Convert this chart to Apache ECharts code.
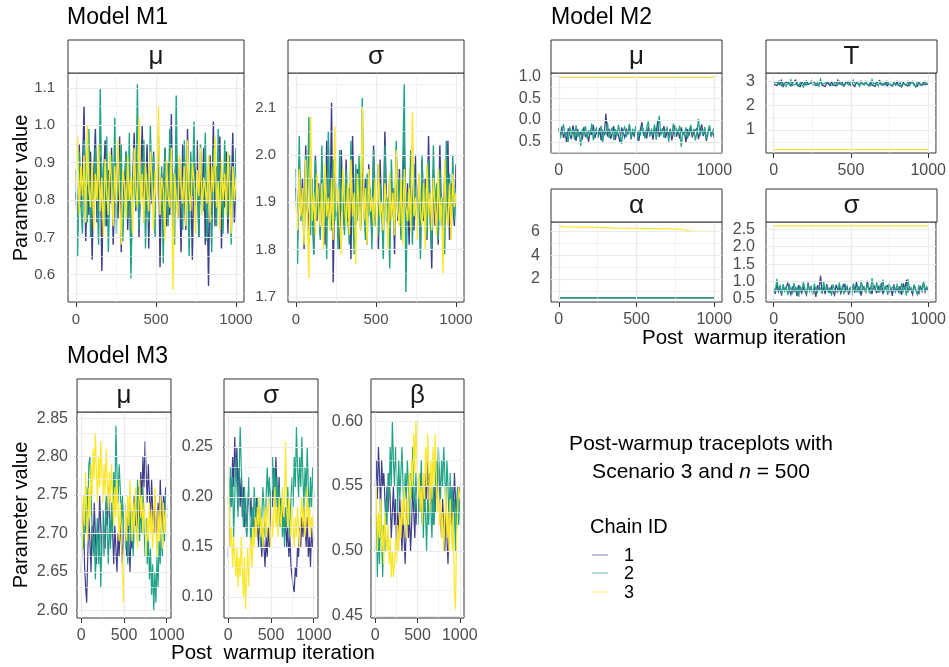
<!DOCTYPE html>
<html><head><meta charset="utf-8">
<script src="https://cdn.jsdelivr.net/npm/echarts@6/dist/echarts.min.js"></script>
<style>html,body{margin:0;padding:0;background:#fff}#c{width:949px;height:667px}</style>
</head><body><div id="c"></div>
<script>
const chainIds = ['1', '2', '3'];
const xTicks = [0, 500, 1000];

// Model M1
const m1MuTicks = [0.6, 0.7, 0.8, 0.9, 1.0, 1.1];
const m1MuC1 = [0.82,0.71,0.95,0.78,0.88,1.05,0.69,0.84,0.76,0.93,0.64,0.87,0.99,0.74,0.81,0.92,0.61,0.85,0.96,0.73,0.88,0.79,0.94,0.68,0.83,0.90,0.75,0.97,0.66,0.86,0.80,0.93,0.72,0.89,0.63,0.84,0.98,0.77,0.91,0.70,0.86,1.00,0.74,0.82,0.95,0.67,0.88,0.79,0.93,0.71,0.85,0.97,0.62,0.87,0.80,0.94,0.73,0.90,0.76,1.03,0.69,0.84,0.92,0.75,0.88,0.66,0.95,0.81,0.72,0.99,0.78,0.86,0.64,0.91,0.83,0.96,0.70,0.87,0.79,0.94,0.68,0.85,0.57,0.92,0.76,1.01,0.73,0.89,0.82,0.97,0.67,0.86,0.78,0.93,0.71,0.88,0.80,0.98,0.74,0.85];
const m1MuC2 = [0.88,0.65,0.93,0.79,0.71,0.96,0.84,0.74,0.99,0.70,0.87,0.77,0.94,0.82,0.68,1.10,0.79,0.90,0.73,0.97,0.66,0.85,0.92,0.76,1.02,0.71,0.88,0.80,0.95,0.69,0.86,0.93,0.75,0.98,0.59,0.84,0.91,0.78,1.11,0.72,0.89,0.81,0.96,0.67,0.87,0.74,1.00,0.79,0.92,0.70,0.85,0.97,0.76,0.89,0.63,0.94,0.82,0.73,0.99,0.80,0.87,0.68,1.08,0.77,0.91,0.84,0.72,0.96,0.79,0.88,0.65,0.93,0.81,1.01,0.74,0.86,0.70,0.95,0.83,0.77,0.98,0.69,0.90,0.80,0.66,0.94,0.85,0.73,0.99,0.78,0.87,0.71,0.96,0.82,0.75,0.92,0.68,0.89,0.79,0.94];
const m1MuC3 = [0.84,0.97,0.76,0.89,0.81,0.92,0.74,1.00,0.83,0.78,0.90,0.72,0.87,0.80,0.95,0.77,0.86,0.70,0.91,0.82,0.76,0.93,0.85,0.73,0.89,0.79,0.96,0.81,0.68,0.88,0.84,0.75,0.92,0.80,0.86,0.71,0.94,0.83,0.78,1.02,0.79,0.87,0.74,0.90,0.82,0.77,0.93,0.85,0.72,0.88,0.80,1.05,0.76,0.86,0.83,0.69,0.91,0.81,0.78,0.94,0.56,0.87,0.80,0.75,0.92,0.84,0.79,0.89,0.73,0.96,0.82,0.77,0.90,0.85,0.71,0.88,0.81,0.94,0.76,0.86,0.83,0.79,0.92,0.74,0.89,0.82,0.97,0.78,0.85,0.72,0.91,0.80,0.87,0.76,0.93,0.83,0.71,0.89,0.80,0.86];

const m1SigTicks = [1.7, 1.8, 1.9, 2.0, 2.1];
const m1SigC1 = [1.93,1.82,1.99,1.87,1.95,1.80,2.02,1.89,1.84,1.97,1.91,1.79,2.00,1.86,1.94,1.83,1.98,1.88,1.81,2.03,1.90,1.85,2.11,1.73,1.96,1.87,1.92,1.80,2.01,1.89,1.84,1.99,1.86,1.93,1.78,2.04,1.88,1.82,1.97,1.91,1.85,2.00,1.87,1.95,1.81,1.98,1.89,1.83,2.02,1.86,1.94,1.80,1.99,1.88,1.84,2.05,1.90,1.82,1.96,1.87,1.93,1.79,2.01,1.86,1.97,1.83,1.91,2.03,1.85,1.94,1.81,1.98,1.88,1.84,2.00,1.87,1.92,1.80,1.99,1.86,1.95,1.82,2.04,1.89,1.76,1.97,1.85,1.93,1.81,2.02,1.88,1.84,1.96,1.87,2.03,1.82,1.94,1.89,1.85,1.98];
const m1SigC2 = [1.97,1.77,2.04,1.86,1.92,1.81,2.00,1.88,2.08,1.83,1.95,1.79,1.99,1.87,1.93,1.82,2.02,1.85,1.96,1.78,2.05,1.89,1.84,1.99,1.86,1.94,1.80,2.01,1.88,1.92,1.83,1.97,1.87,1.81,2.03,1.90,1.79,1.98,1.86,2.00,1.84,2.12,1.88,1.82,1.96,1.87,1.93,1.80,2.01,1.85,1.98,1.83,1.94,1.89,1.78,2.02,1.86,1.91,1.76,1.99,1.88,1.84,2.03,1.87,1.95,1.82,1.97,2.15,1.71,1.92,1.86,2.01,1.81,1.98,1.89,1.84,1.96,1.78,2.00,1.87,1.93,1.83,1.99,1.86,1.80,2.02,1.88,1.94,1.82,1.97,1.85,1.91,1.79,2.03,1.87,1.96,1.83,2.00,1.86,1.93];
const m1SigC3 = [1.90,1.84,1.97,1.87,1.93,1.81,1.99,1.88,1.74,2.08,1.86,1.92,1.83,1.96,1.89,1.85,1.94,1.80,1.98,1.87,1.91,1.84,1.95,1.82,2.06,1.88,1.93,1.86,1.79,1.97,1.90,1.85,1.94,1.83,1.99,1.87,1.92,1.77,1.96,1.89,1.84,2.10,1.86,1.93,1.81,1.97,1.88,1.91,1.85,1.95,1.82,1.98,1.87,1.90,1.84,1.94,1.89,1.80,1.96,1.86,1.92,1.83,2.01,1.88,1.85,1.95,1.81,1.97,1.89,1.86,1.93,1.84,2.09,1.87,1.91,1.82,1.96,1.88,1.85,1.94,1.80,1.98,1.87,1.92,1.84,1.95,1.89,1.83,1.97,1.86,1.91,1.75,1.99,1.88,1.85,1.94,1.82,1.96,1.89,1.92];

// Model M2
const m2MuTicks = [-0.5, 0.0, 0.5, 1.0];
const m2MuTickLabels = ['0.5', '0.0', '0.5', '1.0'];
const m2MuC1 = [-0.22,-0.35,-0.15,-0.41,-0.28,-0.52,-0.19,-0.33,-0.44,-0.12,-0.30,-0.48,-0.21,-0.37,-0.26,-0.45,-0.16,-0.39,-0.29,-0.50,-0.23,-0.34,-0.11,-0.42,-0.27,-0.36,-0.18,-0.47,-0.25,-0.32,0.15,-0.38,-0.20,-0.43,-0.31,-0.14,-0.46,-0.24,-0.35,-0.51,-0.17,-0.29,-0.40,-0.22,-0.33,-0.13,-0.44,-0.26,-0.37,-0.19,-0.30,-0.48,-0.21,-0.05,-0.36,-0.27,-0.42,-0.16,-0.34,-0.25,-0.45,-0.18,-0.31,-0.02,-0.39,-0.23,-0.28,-0.14,-0.41,-0.26,-0.35,-0.20,-0.47,-0.29,-0.12,-0.38,-0.24,-0.43,-0.17,-0.33,-0.27,-0.52,-0.21,-0.36,-0.15,-0.40,-0.28,-0.31,-0.19,-0.44,-0.25,-0.10,-0.37,-0.22,-0.48,-0.30,-0.16,-0.34,-0.26,-0.41];
const m2MuC2 = [-0.18,-0.42,-0.25,-0.10,-0.36,-0.29,-0.50,-0.15,-0.33,-0.22,-0.45,-0.12,-0.38,-0.27,-0.60,-0.20,-0.31,-0.14,-0.43,-0.24,-0.35,-0.08,-0.47,-0.26,-0.19,-0.40,-0.30,-0.13,-0.52,-0.23,-0.34,-0.05,-0.41,-0.28,-0.17,-0.46,-0.21,-0.37,-0.11,-0.32,-0.55,-0.25,-0.16,-0.39,-0.27,-0.09,-0.44,-0.20,-0.33,-0.14,-0.48,-0.24,-0.36,-0.12,-0.29,-0.42,-0.18,-0.03,-0.38,-0.22,-0.31,-0.10,-0.45,-0.26,0.10,-0.35,-0.19,-0.41,-0.28,-0.15,-0.50,-0.23,-0.33,-0.08,-0.39,-0.21,-0.30,-0.13,-0.62,-0.25,-0.36,-0.17,-0.43,-0.27,-0.11,-0.34,-0.20,-0.47,-0.28,0.02,-0.37,-0.22,-0.31,-0.16,-0.44,-0.25,-0.12,-0.39,-0.29,-0.19];
const m2MuC3 = [0.98, 0.98, 0.98, 0.98, 0.98];

const m2TauTicks = [1, 2, 3];
const m2TauC1 = [2.88,2.95,2.82,2.99,2.86,3.03,2.79,2.92,2.84,2.97,2.90,2.81,2.94,2.87,3.05,2.83,2.91,2.78,2.96,2.89,2.85,3.00,2.88,2.80,2.93,2.86,2.98,2.83,2.91,2.87,3.02,2.84,2.90,2.79,2.95,2.88,2.82,2.97,2.86,2.92,2.81,3.04,2.89,2.85,2.94,2.80,2.90,2.87,2.99,2.83,2.92,2.86,2.78,2.96,2.89,2.84,3.01,2.87,2.82,2.93,2.88,2.81,2.97,2.85,2.91,2.79,2.95,2.87,3.03,2.84,2.90,2.86,2.98,2.82,2.92,2.88,2.80,2.94,2.85,2.99,2.83,2.91,2.77,2.96,2.86,2.89,2.81,2.93,2.87,3.00,2.84,2.90,2.79,2.95,2.88,2.83,2.97,2.86,2.92,2.89];
const m2TauC2 = [2.92,2.84,2.98,2.87,3.01,2.82,2.93,2.89,2.79,2.96,2.86,3.06,2.83,2.91,2.88,2.97,2.81,2.94,2.87,2.76,2.99,2.85,2.92,2.89,3.02,2.84,2.90,2.86,2.95,2.80,3.08,2.88,2.83,2.93,2.87,2.98,2.85,2.91,2.82,2.96,2.89,2.84,3.00,2.87,2.92,2.81,2.95,2.88,2.85,2.97,2.83,3.04,2.90,2.86,2.93,2.80,2.96,2.88,2.84,2.99,2.87,2.91,2.82,3.07,2.89,2.85,2.94,2.81,2.97,2.88,2.86,2.92,2.83,2.98,2.87,2.90,2.80,2.95,2.86,2.93,2.84,2.97,2.78,2.91,2.88,2.85,2.99,2.82,2.94,2.87,2.90,2.76,2.96,2.88,2.84,2.92,2.86,3.00,2.89,2.91];
const m2TauC3 = [0.19, 0.19, 0.19, 0.19, 0.19];

const m2AlphaTicks = [2, 4, 6];
const m2AlphaC1 = [0.40, 0.40, 0.40, 0.40, 0.40];
const m2AlphaC2 = [0.40, 0.40, 0.40, 0.40, 0.40];
const m2AlphaC3Iter = [0, 30, 250, 350, 500, 700, 800, 850, 1000];
const m2AlphaC3 = [6.45, 6.38, 6.33, 6.27, 6.24, 6.20, 6.15, 6.02, 6.00];

const m2SigTicks = [0.5, 1.0, 1.5, 2.0, 2.5];
const m2SigC1 = [0.78,0.65,0.92,0.71,0.84,0.60,0.88,0.74,0.69,0.95,0.76,0.63,0.86,0.72,0.81,0.58,0.90,0.75,0.67,0.83,0.79,0.62,0.97,0.73,0.85,0.68,0.80,0.56,0.89,0.74,1.17,0.70,0.82,0.64,0.93,0.77,0.69,0.86,0.72,0.61,0.91,0.76,0.83,0.66,0.79,0.94,0.71,0.85,0.63,0.80,0.75,0.88,0.68,0.99,0.73,0.82,0.60,0.87,0.77,0.70,1.02,0.74,0.84,0.65,0.91,0.78,0.69,0.85,0.72,0.96,0.64,0.81,0.76,0.89,0.67,0.83,0.59,0.92,0.74,0.80,0.71,0.87,0.62,0.95,0.78,1.05,0.69,0.84,0.75,0.63,0.90,0.77,0.82,0.66,0.88,0.73,0.97,0.70,0.81,0.76];
const m2SigC2 = [0.82,0.70,1.08,0.76,0.88,0.64,0.93,0.73,0.85,0.61,0.90,0.78,0.68,0.96,0.74,0.83,0.57,0.87,0.72,0.99,0.79,0.66,0.91,0.75,0.84,0.62,0.94,0.77,0.70,0.86,0.80,0.65,1.00,0.73,0.89,0.68,0.83,0.60,0.92,0.76,0.81,0.69,0.97,0.74,0.87,0.63,0.90,0.78,0.71,0.85,0.58,0.95,0.79,0.72,0.88,0.66,1.03,0.75,0.84,0.70,0.93,0.77,0.64,1.10,0.81,0.73,0.98,0.68,0.86,0.76,1.06,0.71,0.89,0.62,0.94,0.79,0.74,0.87,0.67,0.91,0.80,0.65,0.96,0.72,0.85,0.60,1.07,0.77,0.83,0.69,0.92,0.75,0.63,0.88,0.80,0.71,1.01,0.74,0.86,0.78];
const m2SigC3 = [2.60, 2.60, 2.60, 2.60, 2.60];

// Model M3
const m3MuTicks = [2.60, 2.65, 2.70, 2.75, 2.80, 2.85];
const m3MuC1 = [2.70,2.68,2.74,2.66,2.63,2.61,2.67,2.72,2.69,2.65,2.71,2.68,2.74,2.70,2.66,2.72,2.69,2.75,2.71,2.67,2.73,2.70,2.68,2.74,2.71,2.76,2.72,2.69,2.73,2.70,2.66,2.71,2.68,2.65,2.70,2.67,2.72,2.69,2.66,2.71,2.74,2.70,2.67,2.73,2.69,2.65,2.70,2.68,2.72,2.75,2.71,2.74,2.69,2.76,2.72,2.78,2.74,2.80,2.76,2.82,2.78,2.74,2.79,2.75,2.71,2.77,2.73,2.70,2.75,2.72,2.68,2.74,2.71,2.77,2.73,2.69,2.75,2.72,2.76,2.73];
const m3MuC2 = [2.65,2.71,2.68,2.74,2.70,2.76,2.72,2.79,2.80,2.75,2.71,2.67,2.70,2.64,2.68,2.72,2.66,2.70,2.63,2.69,2.73,2.67,2.71,2.75,2.70,2.66,2.72,2.68,2.74,2.70,2.78,2.73,2.84,2.78,2.74,2.79,2.76,2.71,2.75,2.70,2.73,2.68,2.72,2.66,2.70,2.74,2.69,2.73,2.67,2.71,2.75,2.70,2.77,2.73,2.69,2.74,2.70,2.76,2.71,2.67,2.72,2.66,2.70,2.64,2.68,2.62,2.66,2.60,2.65,2.61,2.67,2.63,2.69,2.66,2.71,2.67,2.73,2.69,2.75,2.72];
const m3MuC3 = [2.72,2.68,2.75,2.71,2.78,2.73,2.69,2.76,2.72,2.79,2.75,2.81,2.77,2.83,2.78,2.74,2.80,2.76,2.82,2.78,2.74,2.79,2.75,2.81,2.77,2.73,2.78,2.74,2.79,2.75,2.71,2.76,2.72,2.77,2.73,2.69,2.74,2.70,2.66,2.61,2.68,2.73,2.69,2.75,2.71,2.77,2.73,2.69,2.74,2.70,2.76,2.72,2.68,2.73,2.77,2.72,2.75,2.70,2.74,2.71,2.67,2.72,2.69,2.74,2.70,2.73,2.68,2.72,2.76,2.71,2.67,2.73,2.69,2.75,2.71,2.68,2.74,2.70,2.73,2.71];

const m3SigTicks = [0.10, 0.15, 0.20, 0.25];
const m3SigC1 = [0.14,0.18,0.22,0.19,0.24,0.21,0.26,0.22,0.25,0.20,0.23,0.19,0.22,0.18,0.21,0.17,0.20,0.16,0.19,0.21,0.18,0.20,0.17,0.19,0.16,0.18,0.20,0.17,0.15,0.19,0.16,0.14,0.17,0.15,0.13,0.16,0.14,0.17,0.15,0.18,0.21,0.19,0.23,0.20,0.24,0.21,0.19,0.22,0.18,0.20,0.17,0.19,0.16,0.18,0.15,0.17,0.14,0.16,0.13,0.12,0.11,0.105,0.13,0.12,0.15,0.14,0.17,0.15,0.18,0.16,0.19,0.17,0.15,0.18,0.14,0.16,0.13,0.17,0.15,0.16];
const m3SigC2 = [0.20,0.17,0.23,0.19,0.22,0.16,0.20,0.24,0.21,0.18,0.22,0.27,0.23,0.20,0.17,0.21,0.18,0.16,0.19,0.22,0.18,0.15,0.19,0.17,0.21,0.18,0.16,0.20,0.17,0.19,0.15,0.18,0.21,0.19,0.16,0.20,0.23,0.20,0.22,0.19,0.21,0.24,0.20,0.23,0.19,0.22,0.18,0.21,0.17,0.20,0.16,0.18,0.15,0.19,0.17,0.21,0.18,0.16,0.20,0.22,0.19,0.24,0.21,0.27,0.23,0.20,0.24,0.21,0.26,0.22,0.19,0.23,0.20,0.25,0.21,0.18,0.22,0.19,0.23,0.20];
const m3SigC3 = [0.22,0.19,0.15,0.17,0.13,0.16,0.14,0.12,0.15,0.11,0.14,0.12,0.16,0.13,0.10,0.14,0.088,0.12,0.15,0.11,0.14,0.16,0.13,0.17,0.15,0.18,0.16,0.19,0.17,0.20,0.16,0.18,0.15,0.17,0.19,0.16,0.18,0.20,0.17,0.15,0.19,0.16,0.18,0.21,0.17,0.19,0.16,0.20,0.18,0.17,0.21,0.18,0.20,0.255,0.19,0.17,0.20,0.18,0.16,0.19,0.17,0.15,0.18,0.16,0.19,0.17,0.15,0.18,0.20,0.17,0.19,0.16,0.18,0.21,0.17,0.19,0.16,0.18,0.17,0.19];

const m3BetaTicks = [0.45, 0.50, 0.55, 0.60];
const m3BetaC1 = [0.55,0.57,0.54,0.58,0.56,0.53,0.57,0.55,0.56,0.54,0.52,0.55,0.53,0.56,0.54,0.51,0.53,0.55,0.52,0.54,0.50,0.53,0.51,0.54,0.52,0.50,0.53,0.51,0.49,0.52,0.54,0.51,0.53,0.50,0.52,0.55,0.53,0.51,0.54,0.52,0.55,0.53,0.56,0.54,0.52,0.55,0.53,0.56,0.54,0.57,0.55,0.53,0.56,0.54,0.52,0.55,0.53,0.56,0.54,0.57,0.55,0.53,0.51,0.54,0.52,0.50,0.53,0.51,0.49,0.52,0.54,0.52,0.55,0.53,0.56,0.54,0.52,0.55,0.53,0.55];
const m3BetaC2 = [0.50,0.53,0.48,0.52,0.49,0.54,0.51,0.48,0.52,0.50,0.54,0.52,0.56,0.54,0.58,0.55,0.60,0.57,0.55,0.58,0.56,0.53,0.57,0.54,0.56,0.58,0.55,0.53,0.56,0.54,0.57,0.55,0.52,0.56,0.54,0.58,0.55,0.53,0.56,0.54,0.52,0.55,0.53,0.57,0.54,0.51,0.55,0.53,0.50,0.54,0.52,0.56,0.53,0.51,0.55,0.52,0.54,0.57,0.55,0.58,0.56,0.54,0.57,0.55,0.58,0.56,0.53,0.57,0.55,0.52,0.56,0.53,0.55,0.51,0.54,0.50,0.53,0.55,0.52,0.54];
const m3BetaC3 = [0.52,0.55,0.50,0.53,0.51,0.54,0.50,0.52,0.49,0.53,0.51,0.50,0.52,0.49,0.51,0.48,0.50,0.48,0.49,0.51,0.49,0.52,0.50,0.53,0.51,0.54,0.52,0.55,0.53,0.51,0.54,0.52,0.56,0.54,0.57,0.55,0.59,0.56,0.60,0.57,0.54,0.56,0.53,0.55,0.52,0.56,0.54,0.58,0.55,0.59,0.56,0.53,0.57,0.54,0.58,0.55,0.59,0.56,0.53,0.55,0.52,0.54,0.51,0.53,0.50,0.52,0.55,0.51,0.53,0.50,0.54,0.52,0.50,0.53,0.47,0.455,0.51,0.53,0.55,0.54];

// ---------------- STYLE / LAYOUT ----------------
const FONT = '"Liberation Sans", Arial, Helvetica, sans-serif';
const chainColors = ['#3E3D8B', '#20A486', '#FDE725'];
const GRID_COLOR = '#EBEBEB';

function fmt(dec) { return v => Number(v).toFixed(dec); }

const panels = [
  { l: 68,  t: 73,  w: 176, h: 229, ymin: 0.527, ymax: 1.14,  ticks: m1MuTicks,   lab: fmt(1), strip: 'μ', chains: [m1MuC1, m1MuC2, m1MuC3], ym: 13, fs: 15, lw: 1.4 },
  { l: 288, t: 73,  w: 176, h: 229, ymin: 1.689, ymax: 2.173, ticks: m1SigTicks,  lab: fmt(1), strip: 'σ', chains: [m1SigC1, m1SigC2, m1SigC3], ym: 12, fs: 15, lw: 1.4 },
  { l: 551, t: 73,  w: 171, h: 80,  ymin: -0.758, ymax: 1.082, ticks: m2MuTicks, lab: v => m2MuTickLabels[m2MuTicks.indexOf(Number(v))], strip: 'μ', chains: [m2MuC1, m2MuC2, m2MuC3], ym: 10, fs: 16, lw: 1.25 },
  { l: 766, t: 73,  w: 171, h: 80,  ymin: 0.05,  ymax: 3.34,  ticks: m2TauTicks,  lab: fmt(0), strip: 'T', chains: [m2TauC1, m2TauC2, m2TauC3], ym: 11, fs: 16, lw: 1.25 },
  { l: 551, t: 222, w: 171, h: 80,  ymin: 0.06,  ymax: 6.78,  ticks: m2AlphaTicks, lab: fmt(0), strip: 'α', chains: [m2AlphaC1, m2AlphaC2, m2AlphaC3], iters: [null, null, m2AlphaC3Iter], ym: 11, fs: 16, lw: 1.25 },
  { l: 766, t: 222, w: 171, h: 80,  ymin: 0.415, ymax: 2.71,  ticks: m2SigTicks,  lab: fmt(1), strip: 'σ', chains: [m2SigC1, m2SigC2, m2SigC3], ym: 11, fs: 16, lw: 1.25 },
  { l: 77,  t: 412, w: 94,  h: 206, ymin: 2.59,  ymax: 2.858, ticks: m3MuTicks,   lab: fmt(2), strip: 'μ', chains: [m3MuC1, m3MuC2, m3MuC3], ym: 9, fs: 16, lw: 1.2 },
  { l: 224, t: 412, w: 94,  h: 206, ymin: 0.079, ymax: 0.285, ticks: m3SigTicks,  lab: fmt(2), strip: 'σ', chains: [m3SigC1, m3SigC2, m3SigC3], ym: 11, fs: 16, lw: 1.2 },
  { l: 371, t: 412, w: 93,  h: 206, ymin: 0.4485, ymax: 0.607, ticks: m3BetaTicks, lab: fmt(2), strip: 'β', chains: [m3BetaC1, m3BetaC2, m3BetaC3], ym: 8, fs: 16, lw: 1.2 }
];

function iterIndex(n) { const a = []; for (let i = 0; i < n; i++) a.push(i * 1000 / (n - 1)); return a; }
function minorOf(ticks, lo, hi) {
  const out = [];
  const step = ticks[1] - ticks[0];
  const ext = [ticks[0] - step].concat(ticks, [ticks[ticks.length - 1] + step]);
  for (let i = 0; i < ext.length - 1; i++) { const m = (ext[i] + ext[i + 1]) / 2; if (m > lo && m < hi) out.push(m); }
  return out;
}

const grid = [], xAxis = [], yAxis = [], series = [], graphic = [];
panels.forEach((p, gi) => {
  grid.push({ left: p.l, top: p.t, width: p.w, height: p.h, show: true, borderColor: '#333333', borderWidth: 1, backgroundColor: '#fff', containLabel: false });
  xAxis.push({
    type: 'value', gridIndex: gi, min: -50, max: 1050,
    axisLine: { show: false }, splitLine: { show: false },
    axisTick: { show: true, length: 5, customValues: xTicks, lineStyle: { color: '#333333', width: 1 } },
    axisLabel: { customValues: xTicks, color: '#4D4D4D', fontSize: p.fs, fontFamily: FONT, margin: 10, formatter: v => String(v) }
  });
  yAxis.push({
    type: 'value', gridIndex: gi, min: p.ymin, max: p.ymax,
    axisLine: { show: false }, splitLine: { show: false },
    axisTick: { show: true, length: 5, customValues: p.ticks, lineStyle: { color: '#333333', width: 1 } },
    axisLabel: { customValues: p.ticks, color: '#4D4D4D', fontSize: p.fs, fontFamily: FONT, margin: p.ym, formatter: p.lab }
  });
  // gridlines (major + minor) through the axis scales
  const gl = [];
  minorOf(p.ticks, p.ymin, p.ymax).forEach(v => gl.push({ yAxis: v, lineStyle: { color: GRID_COLOR, width: 0.6, type: 'solid' } }));
  minorOf(xTicks, -50, 1050).forEach(v => gl.push({ xAxis: v, lineStyle: { color: GRID_COLOR, width: 0.6, type: 'solid' } }));
  p.ticks.forEach(v => gl.push({ yAxis: v, lineStyle: { color: GRID_COLOR, width: 1.2, type: 'solid' } }));
  xTicks.forEach(v => gl.push({ xAxis: v, lineStyle: { color: GRID_COLOR, width: 1.2, type: 'solid' } }));
  series.push({
    type: 'line', xAxisIndex: gi, yAxisIndex: gi, data: [[0, p.ticks[0]]], showSymbol: false, symbol: 'none',
    lineStyle: { width: 0 }, silent: true, animation: false, z: 1,
    markLine: { silent: true, symbol: ['none', 'none'], label: { show: false }, animation: false, data: gl }
  });
  p.chains.forEach((vals, ci) => {
    const xs = (p.iters && p.iters[ci]) ? p.iters[ci] : iterIndex(vals.length);
    series.push({
      type: 'line', name: chainIds[ci], xAxisIndex: gi, yAxisIndex: gi,
      data: vals.map((v, i) => [xs[i], v]),
      showSymbol: false, symbol: 'none', sampling: null, animation: false, z: 2 + ci,
      lineStyle: { color: chainColors[ci], width: p.lw, opacity: 1, join: 'miter', miterLimit: 4 }
    });
  });
  // strip header
  graphic.push({ type: 'rect', shape: { x: p.l, y: p.t - 33, width: p.w, height: 33 }, style: { fill: '#fff', stroke: '#333333', lineWidth: 1 }, z: 10 });
  graphic.push({ type: 'text', x: p.l + p.w / 2, y: p.t - 16, style: { text: p.strip, font: '26px ' + FONT, fill: '#1A1A1A', textAlign: 'center', textVerticalAlign: 'middle', align: 'center', verticalAlign: 'middle' }, z: 11 });
});

function txt(x, y, text, size, extra) {
  return { type: 'text', x: x, y: y, z: 12, rotation: (extra && extra.rotation) || 0,
    style: Object.assign({ text: text, font: size + 'px ' + FONT, fill: '#000', textAlign: (extra && extra.align) || 'left', textVerticalAlign: 'middle', align: (extra && extra.align) || 'left', verticalAlign: 'middle' }, (extra && extra.style) || {}) };
}
graphic.push(txt(67, 18, 'Model M1', 23));
graphic.push(txt(551, 18, 'Model M2', 23));
graphic.push(txt(67, 357, 'Model M3', 23));
graphic.push(txt(21, 188, 'Parameter value', 20, { rotation: Math.PI / 2, align: 'center' }));
graphic.push(txt(21, 515, 'Parameter value', 20, { rotation: Math.PI / 2, align: 'center' }));
graphic.push(txt(744, 338, 'Post  warmup iteration', 20.5, { align: 'center' }));
graphic.push(txt(273, 653, 'Post  warmup iteration', 20.5, { align: 'center' }));
// caption + legend
graphic.push(txt(701, 444, 'Post-warmup traceplots with', 21, { align: 'center' }));
graphic.push(txt(701, 472, 'Scenario 3 and {i|n} = 500', 21, { align: 'center', style: { rich: { i: { fontStyle: 'italic', fontSize: 21, fontFamily: FONT, fill: '#000' } } } }));
graphic.push(txt(590, 527, 'Chain ID', 20));
const legY = [555, 573, 592];
chainIds.forEach((id, i) => {
  graphic.push({ type: 'line', shape: { x1: 592, y1: legY[i], x2: 608, y2: legY[i] }, style: { stroke: chainColors[i], lineWidth: 1.2, opacity: 0.55 }, z: 12 });
  graphic.push(txt(624, legY[i] + 1, id, 18));
});

const chart = echarts.init(document.getElementById('c'), null, { renderer: 'canvas' });
chart.setOption({ backgroundColor: '#fff', animation: false, grid, xAxis, yAxis, series, graphic });
</script>
</body></html>
